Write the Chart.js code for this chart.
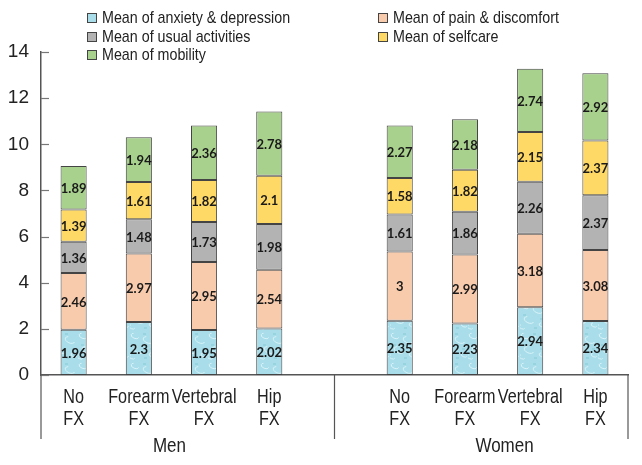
<!DOCTYPE html>
<html>
<head>
<meta charset="utf-8">
<script src="https://cdn.jsdelivr.net/npm/chart.js@4.4.1/dist/chart.umd.min.js"></script>
<style>
  body { margin: 0; background: #fff; }
  #wrap { position: relative; width: 642px; height: 465px; }
  #legend {
    position: absolute; left: 87px; top: 9px;
    display: grid; grid-template-columns: 291px auto; grid-auto-rows: 18.5px;
    font-family: "Liberation Sans", Arial, sans-serif;
    font-size: 17px; color: #222;
  }
  #legend div { display: flex; align-items: center; white-space: nowrap; }
  #legend span.box {
    display: inline-block; width: 8px; height: 8px; border: 1px solid #444;
    margin-right: 5px; flex: none;
  }
  #legend span.txt { display: inline-block; transform: scaleX(0.84); transform-origin: left center; }
</style>
</head>
<body>
<div id="wrap">
  <canvas id="chart" width="642" height="465"></canvas>
  <div id="legend"></div>
</div>
<script>
const FONT = '"Liberation Sans", Arial, sans-serif';
const SQUEEZE = 0.81;

const categories = [["No", "FX"], ["Forearm", "FX"], ["Vertebral", "FX"], ["Hip", "FX"], "",
  ["No", "FX"], ["Forearm", "FX"], ["Vertebral", "FX"], ["Hip", "FX"]];
const groups = ["Men", "Women"];

// bottom to top
const anxiety = [1.96, 2.3, 1.95, 2.02, null, 2.35, 2.23, 2.94, 2.34];
const pain = [2.46, 2.97, 2.95, 2.54, null, 3, 2.99, 3.18, 3.08];
const usual = [1.36, 1.48, 1.73, 1.98, null, 1.61, 1.86, 2.26, 2.37];
const selfcare = [1.39, 1.61, 1.82, 2.1, null, 1.58, 1.82, 2.15, 2.37];
const mobility = [1.89, 1.94, 2.36, 2.78, null, 2.27, 2.18, 2.74, 2.92];

const yTicks = [0, 2, 4, 6, 8, 10, 12, 14];

const seriesNames = ["Mean of anxiety & depression", "Mean of pain & discomfort",
  "Mean of usual activities", "Mean of selfcare", "Mean of mobility"];
const seriesColors = ["#a8dde9", "#f8cbad", "#b3b3b3", "#ffd966", "#a9d18e"];

// watery texture for the blue segments
function waterPattern() {
  const c = document.createElement("canvas");
  c.width = 26; c.height = 30;
  const g = c.getContext("2d");
  g.fillStyle = "#a8dde9";
  g.fillRect(0, 0, 26, 30);
  g.strokeStyle = "rgba(230,248,252,0.8)";
  g.lineWidth = 1;
  const arcs = [[5, 6, 4], [18, 10, 5], [9, 20, 5], [22, 25, 3], [2, 27, 3]];
  arcs.forEach(([x, y, r]) => {
    g.beginPath();
    g.ellipse(x, y, r, r * 0.6, 0.4, 0, Math.PI * 1.3);
    g.stroke();
  });
  g.fillStyle = "rgba(120,195,210,0.35)";
  [[13, 3], [3, 14], [20, 18], [14, 27]].forEach(([x, y]) => g.fillRect(x, y, 3, 2));
  return g.createPattern(c, "repeat");
}

const legendEl = document.getElementById("legend");
seriesNames.forEach((name, i) => {
  const d = document.createElement("div");
  d.innerHTML = `<span class="box" style="background:${seriesColors[i]}"></span><span class="txt">${name.replace("&", "&amp;")}</span>`;
  legendEl.appendChild(d);
});

// condensed-looking text: draw squeezed horizontally
function squeezedText(ctx, text, x, y) {
  ctx.save();
  ctx.translate(x, y);
  ctx.scale(SQUEEZE, 1);
  ctx.fillText(text, 0, 0);
  ctx.restore();
}

const extras = {
  id: "extras",
  afterDatasetsDraw(chart) {
    const ctx = chart.ctx;
    // values inside segments
    ctx.save();
    ctx.font = "bold 13px Lato, 'Open Sans', sans-serif";
    ctx.fillStyle = "#1a1a1a";
    ctx.textAlign = "center";
    ctx.textBaseline = "middle";
    chart.data.datasets.forEach((ds, di) => {
      const meta = chart.getDatasetMeta(di);
      meta.data.forEach((bar, i) => {
        const v = ds.data[i];
        if (v == null) return;
        ctx.fillText(String(v), bar.x, (bar.y + bar.base) / 2 + 1);
      });
    });
    ctx.restore();
  },
  afterDraw(chart) {
    const ctx = chart.ctx;
    const area = chart.chartArea;
    const x = chart.scales.x, y = chart.scales.y;
    ctx.save();
    // inward y ticks
    ctx.strokeStyle = "#777";
    ctx.lineWidth = 1.2;
    yTicks.forEach(t => {
      const py = Math.round(y.getPixelForValue(t)) + 0.5;
      ctx.beginPath();
      ctx.moveTo(area.left, py);
      ctx.lineTo(area.left + 8, py);
      ctx.stroke();
    });
    // group separators
    ctx.strokeStyle = "#555";
    ctx.lineWidth = 1.2;
    [area.left, x.getPixelForValue(4), area.right].forEach(px => {
      ctx.beginPath();
      ctx.moveTo(px, area.bottom);
      ctx.lineTo(px, 439);
      ctx.stroke();
    });
    ctx.fillStyle = "#222";
    ctx.textAlign = "center";
    ctx.textBaseline = "middle";
    // category labels, two lines
    ctx.font = "20px " + FONT;
    categories.forEach((lab, i) => {
      if (!Array.isArray(lab)) return;
      const px = x.getPixelForValue(i);
      lab.forEach((line, k) => squeezedText(ctx, line, px, 397 + k * 22));
    });
    // group labels
    ctx.font = "21px " + FONT;
    const men = (x.getPixelForValue(0) + x.getPixelForValue(3)) / 2 - 2;
    const women = (x.getPixelForValue(5) + x.getPixelForValue(8)) / 2 + 7;
    squeezedText(ctx, groups[0], men, 446);
    squeezedText(ctx, groups[1], women, 446);
    ctx.restore();
  }
};

const series = [anxiety, pain, usual, selfcare, mobility];
const datasets = series.map((data, i) => ({
  label: seriesNames[i],
  data: data,
  backgroundColor: i === 0 ? waterPattern() : seriesColors[i],
  borderColor: "#444",
  borderWidth: 1,
  borderSkipped: false,
  categoryPercentage: 1,
  barPercentage: 0.4
}));

new Chart(document.getElementById("chart"), {
  type: "bar",
  data: { labels: categories, datasets: datasets },
  options: {
    responsive: false,
    animation: false,
    layout: { padding: { top: 52, right: 14, left: 0, bottom: 0 } },
    plugins: { legend: { display: false }, tooltip: { enabled: false } },
    scales: {
      x: {
        stacked: true,
        grid: { display: false, drawTicks: false },
        border: { display: true, color: "#555", width: 1.5 },
        ticks: { display: false },
        afterFit: s => { s.height = 90; }
      },
      y: {
        stacked: true,
        min: 0, max: 14,
        grid: { display: false, drawTicks: false },
        border: { display: true, color: "#555", width: 1.5 },
        ticks: {
          stepSize: 2, padding: 12, color: "#222",
          font: { family: FONT, size: 19 }
        },
        afterFit: s => { s.width = 41; }
      }
    }
  },
  plugins: [extras]
});
</script>
</body>
</html>
